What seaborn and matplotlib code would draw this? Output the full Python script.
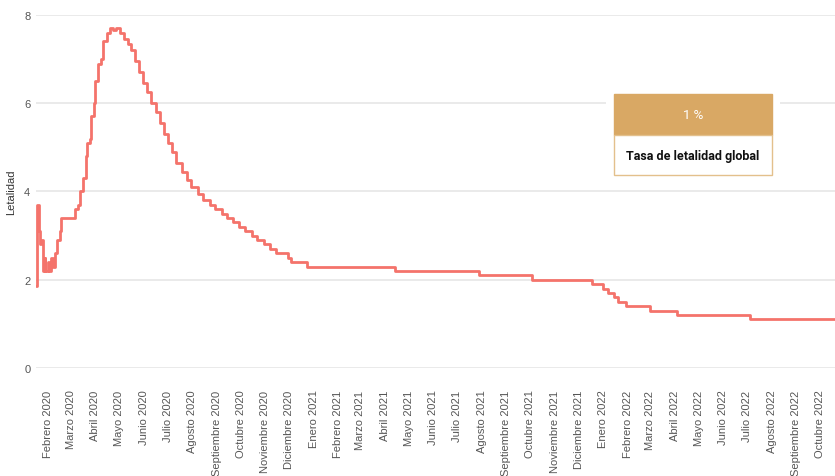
import pandas as pd
import matplotlib.pyplot as plt
from matplotlib.patches import Rectangle
import seaborn as sns

# -------------------------
# Data (step changes of the lethality rate, %)
# -------------------------
fechas = [
    "2020-01-17", "2020-01-18", "2020-01-21", "2020-01-22", "2020-01-24",
    "2020-01-26", "2020-01-28", "2020-01-29", "2020-02-01", "2020-02-02",
    "2020-02-05", "2020-02-07", "2020-02-10", "2020-02-13", "2020-02-16",
    "2020-02-18", "2020-03-03", "2020-03-06", "2020-03-10", "2020-03-12",
    "2020-03-16", "2020-03-20", "2020-03-22", "2020-03-25", "2020-03-27",
    "2020-03-30", "2020-04-01", "2020-04-04", "2020-04-08", "2020-04-11",
    "2020-04-15", "2020-04-19", "2020-04-23", "2020-04-27", "2020-05-02",
    "2020-05-07", "2020-05-12", "2020-05-16", "2020-05-21", "2020-05-26",
    "2020-05-31", "2020-06-05", "2020-06-10", "2020-06-16", "2020-06-21",
    "2020-06-26", "2020-07-01", "2020-07-06", "2020-07-12", "2020-07-19",
    "2020-07-25", "2020-07-31", "2020-08-08", "2020-08-15", "2020-08-23",
    "2020-08-30", "2020-09-07", "2020-09-14", "2020-09-22", "2020-09-29",
    "2020-10-07", "2020-10-15", "2020-10-22", "2020-10-30", "2020-11-07",
    "2020-11-15", "2020-11-30", "2020-12-03", "2020-12-23", "2021-04-14",
    "2021-07-28", "2021-10-03", "2021-12-18", "2022-01-01", "2022-01-07",
    "2022-01-14", "2022-01-20", "2022-01-29", "2022-03-01", "2022-04-04",
    "2022-07-05", "2022-10-20",
]
letalidad = [
    1.85, 3.7, 3.1, 2.8, 2.9,
    2.2, 2.5, 2.2, 2.4, 2.2,
    2.5, 2.3, 2.6, 2.9, 3.1,
    3.4, 3.4, 3.6, 3.7, 4.0,
    4.3, 4.8, 5.1, 5.2, 5.7,
    6.0, 6.5, 6.9, 7.0, 7.4,
    7.6, 7.7, 7.65, 7.7, 7.6,
    7.45, 7.35, 7.2, 6.95, 6.7,
    6.45, 6.25, 6.0, 5.8, 5.55,
    5.3, 5.1, 4.9, 4.65, 4.45,
    4.25, 4.1, 3.95, 3.8, 3.7,
    3.6, 3.5, 3.4, 3.3, 3.2,
    3.1, 3.0, 2.9, 2.8, 2.7,
    2.6, 2.5, 2.4, 2.3, 2.2,
    2.1, 2.0, 1.9, 1.8, 1.7,
    1.6, 1.5, 1.4, 1.3, 1.2,
    1.1, 1.1,
]
meses = ["Enero", "Febrero", "Marzo", "Abril", "Mayo", "Junio", "Julio",
         "Agosto", "Septiembre", "Octubre", "Noviembre", "Diciembre"]
tasa_global = "1 %"
etiqueta_global = "Tasa de letalidad global"

df = pd.DataFrame({"fecha": pd.to_datetime(fechas), "letalidad": letalidad})

# -------------------------
# Plot
# -------------------------
sns.set_style("white")
plt.rcParams["font.family"] = ["Liberation Sans", "DejaVu Sans"]
fig = plt.figure(figsize=(8.35, 4.77), dpi=100)
ax = fig.add_axes([0.043, 0.2264, 0.957, 0.7401])

sns.lineplot(data=df, x="fecha", y="letalidad", ax=ax, color="#F4736B",
             linewidth=2, drawstyle="steps-post")

ax.set_ylim(0, 8)
ax.set_xlim(pd.Timestamp("2020-01-17"), pd.Timestamp("2022-10-20"))
ax.set_yticks([0, 2, 4, 6, 8])
ax.yaxis.grid(True, color="#e6e6e6", linewidth=1.2)
ax.set_axisbelow(True)
sns.despine(ax=ax, left=True, bottom=True)

ticks = pd.date_range("2020-02-01", "2022-10-01", freq="MS")
ax.set_xticks(ticks)
ax.set_xticklabels([f"{meses[t.month - 1]} {t.year}" for t in ticks],
                   rotation=90, fontsize=8, color="#555555")
ax.tick_params(axis="y", labelsize=8, labelcolor="#555555", length=2,
               color="#888888", pad=2)
ax.tick_params(axis="x", length=1.5, color="#888888", pad=14)
ax.set_xlabel("")
ax.set_ylabel("Letalidad", fontsize=8, color="#333333", labelpad=6)

# -------------------------
# Annotation box
# -------------------------
fig.add_artist(Rectangle((0.7257, 0.6226), 0.2083, 0.188,
                         transform=fig.transFigure, facecolor="white",
                         edgecolor="none", zorder=5))
fig.add_artist(Rectangle((0.7353, 0.7149), 0.1892, 0.0859,
                         transform=fig.transFigure, facecolor="#D9A864",
                         edgecolor="#D9A864", zorder=6))
fig.add_artist(Rectangle((0.7353, 0.631), 0.1892, 0.0839,
                         transform=fig.transFigure, facecolor="white",
                         edgecolor="#E3C08C", linewidth=1, zorder=6))
fig.text(0.8299, 0.758, tasa_global, ha="center", va="center",
         color="white", fontsize=9.5, zorder=7, family=["Roboto", "DejaVu Sans"])
fig.text(0.8299, 0.671, etiqueta_global, ha="center", va="center",
         color="#111111", fontsize=9, fontweight="bold", zorder=7,
         family=["Roboto", "DejaVu Sans"])

fig.savefig("out.png", dpi=100)
